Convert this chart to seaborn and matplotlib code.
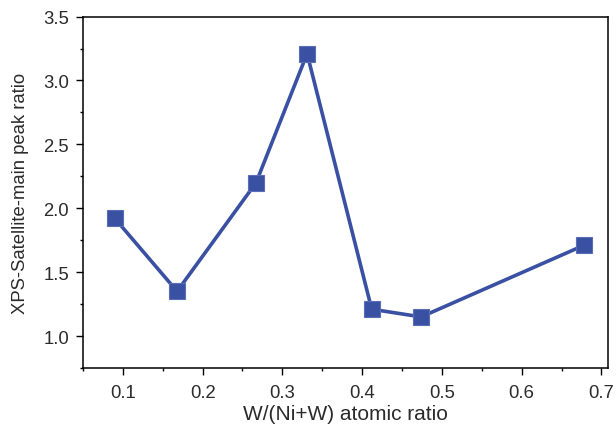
import matplotlib
matplotlib.use("Agg")
import matplotlib.pyplot as plt
from matplotlib.ticker import MultipleLocator
import seaborn as sns
import pandas as pd

w_ratio = [0.090, 0.168, 0.267, 0.331, 0.412, 0.474, 0.678]
peak_ratio = [1.92, 1.35, 2.20, 3.21, 1.21, 1.15, 1.71]

sns.set_style("ticks")
plt.rcParams["font.family"] = ["Liberation Sans", "DejaVu Sans"]

df = pd.DataFrame({"w": w_ratio, "r": peak_ratio})

fig = plt.figure(figsize=(6.16, 4.27), dpi=100)
ax = fig.add_axes([0.1347, 0.1358, 0.852, 0.823])

color = "#3a50a3"
sns.lineplot(data=df, x="w", y="r", ax=ax, color=color, linewidth=2.6,
             marker="s", markersize=12, markeredgewidth=0.8,
             markeredgecolor="#5a6db5", markerfacecolor=color, sort=False)

ax.set_xlim(0.05, 0.708)
ax.set_ylim(0.75, 3.5)
ax.xaxis.set_major_locator(MultipleLocator(0.1))
ax.xaxis.set_minor_locator(MultipleLocator(0.05))
ax.yaxis.set_major_locator(MultipleLocator(0.5))
ax.yaxis.set_minor_locator(MultipleLocator(0.25))
ax.set_xticks([0.1, 0.2, 0.3, 0.4, 0.5, 0.6, 0.7])
ax.set_xticklabels(["0.1", "0.2", "0.3", "0.4", "0.5", "0.6", "0.7"])
ax.set_yticks([1.0, 1.5, 2.0, 2.5, 3.0, 3.5])
ax.set_yticklabels(["1.0", "1.5", "2.0", "2.5", "3.0", "3.5"])

for s in ax.spines.values():
    s.set_visible(True)
    s.set_color("black")
    s.set_linewidth(1.1)

ax.tick_params(which="major", direction="out", length=5, width=1.0,
               color="black", labelsize=13.3, labelcolor="#2b2b2b", pad=5)
ax.tick_params(axis="x", which="major", pad=6.5)
ax.tick_params(which="minor", direction="out", length=2.5, width=1.0,
               color="black")

ax.set_xlabel("W/(Ni+W) atomic ratio", fontsize=15, color="#2b2b2b", labelpad=2)
ax.set_ylabel("XPS-Satellite-main peak ratio", fontsize=13.3, color="#2b2b2b", labelpad=10)

fig.savefig("out.png", dpi=100)
